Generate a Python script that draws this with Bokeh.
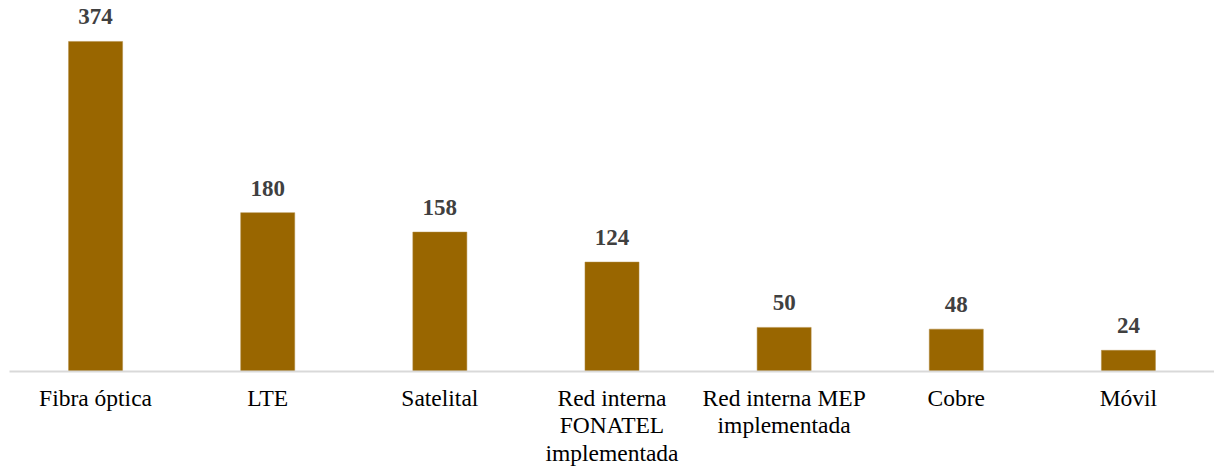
from bokeh.plotting import figure
from bokeh.models import ColumnDataSource, Range1d
from bokeh.core.properties import value
from bokeh.embed import file_html
from bokeh.resources import INLINE

categories = ["Fibra óptica", "LTE", "Satelital", "Red interna\nFONATEL\nimplementada",
              "Red interna MEP\nimplementada", "Cobre", "Móvil"]
values = [374, 180, 158, 124, 50, 48, 24]
labels = [str(v) for v in values]

src = ColumnDataSource(dict(cat=categories, val=values, lab=labels))

p = figure(x_range=categories, y_range=Range1d(0, 420.4), width=1214, height=469,
           output_backend="svg", toolbar_location=None,
           min_border_left=9, min_border_right=0, min_border_top=0, min_border_bottom=98)
p.outline_line_color = None
p.background_fill_color = "white"
p.border_fill_color = "white"
p.xgrid.grid_line_color = None
p.ygrid.grid_line_color = None
p.yaxis.visible = False
p.x_range.range_padding = 0

p.vbar(x="cat", top="val", width=0.314, source=src, fill_color="#996600", line_color="#b08a40", line_width=0.5)
p.text(x="cat", y="val", text="lab", source=src, text_align="center", text_baseline="bottom",
       y_offset=-17, text_font=value("Liberation Serif"), text_font_style="bold",
       text_font_size="23px", text_color="#404040")

ax = p.xaxis[0]
ax.axis_line_color = "#d9d9d9"
ax.axis_line_width = 2
ax.major_tick_line_color = None
ax.minor_tick_line_color = None
ax.major_label_text_font = "Liberation Serif"
ax.major_label_text_font_size = "23.5px"
ax.major_label_text_color = "#000000"
ax.major_label_text_line_height = 1.06
ax.major_label_standoff = 7
ax.major_label_orientation = "horizontal"

open("out.html", "w").write(file_html(p, INLINE))
